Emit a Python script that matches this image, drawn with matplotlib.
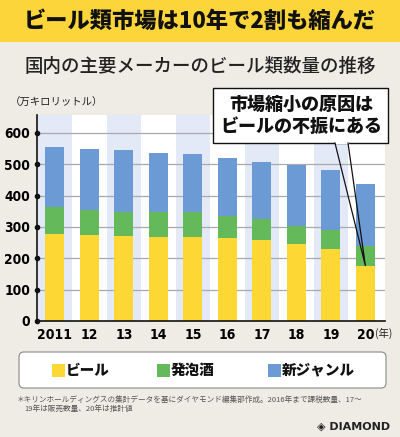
import matplotlib
matplotlib.use("Agg")
import matplotlib.pyplot as plt
from matplotlib.patches import Rectangle, FancyBboxPatch
from matplotlib.lines import Line2D
from matplotlib import font_manager
import numpy as np

plt.rcParams['font.family'] = ['Noto Sans CJK JP', 'DejaVu Sans']

years = ["2011", "12", "13", "14", "15", "16", "17", "18", "19", "20"]
beer = [278, 275, 272, 268, 269, 264, 259, 244, 229, 177]
happoshu = [87, 79, 77, 79, 78, 71, 66, 59, 61, 63]
new_genre = [191, 196, 195, 190, 186, 184, 183, 193, 192, 196]
yticks = [0, 100, 200, 300, 400, 500, 600]
legend_labels = ["ビール", "発泡酒", "新ジャンル"]

C_BEER = "#fdd835"
C_HAP = "#64b95a"
C_NEW = "#6b9ad4"
BG = "#efece5"
BAND = "#e3e9f6"

# condensed font if available
cond = [f for f in font_manager.fontManager.ttflist
        if 'Condensed' in f.fname or 'Narrow' in f.fname]
NUM_FP = None
for f in cond:
    if 'Bold' in f.fname and 'Oblique' not in f.fname and 'Italic' not in f.fname:
        NUM_FP = font_manager.FontProperties(fname=f.fname)
        break

W, H = 400, 437
fig = plt.figure(figsize=(4, 4.37), dpi=100, facecolor=BG)

def fx(px):
    return px / W

def fy(py):
    return 1 - py / H

# Title band
fig.patches.append(Rectangle((0, fy(42)), 1, 42 / H, transform=fig.transFigure,
                             facecolor="#fcd53a", edgecolor="none", zorder=0))
fig.text(0.5, fy(21), "ビール類市場は10年で2割も縮んだ", ha="center", va="center",
         fontsize=16, fontweight="black", color="#111111")
fig.text(0.5, fy(66), "国内の主要メーカーのビール類数量の推移", ha="center", va="center",
         fontsize=13.3, fontweight="medium", color="#222222")
fig.text(fx(10), fy(103), "（万キロリットル）", ha="left", va="center",
         fontsize=7.5, color="#222222")

ax = fig.add_axes([fx(37), fy(321), fx(385) - fx(37), fy(115) - fy(321)])
ax.set_facecolor("white")
x = np.arange(len(years))
ax.set_xlim(-0.52, len(years) - 0.43)
ax.set_ylim(0, 657)

for i in x:
    if i % 2 == 0:
        ax.axvspan(i - 0.5, i + 0.5, color=BAND, zorder=0, lw=0)
for t in yticks[1:]:
    ax.axhline(t, color="#a9a9b0", lw=0.9, zorder=1)

bw = 0.55
beer_a = np.array(beer)
hap_a = np.array(happoshu)
new_a = np.array(new_genre)
ax.bar(x, beer_a, width=bw, color=C_BEER, zorder=2)
ax.bar(x, hap_a, width=bw, bottom=beer_a, color=C_HAP, zorder=2)
ax.bar(x, new_a, width=bw, bottom=beer_a + hap_a, color=C_NEW, zorder=2)

for s in ["top", "right"]:
    ax.spines[s].set_visible(False)
for s in ["left", "bottom"]:
    ax.spines[s].set_color("#111111")
    ax.spines[s].set_linewidth(1.2)
    ax.spines[s].set_zorder(5)

ax.set_yticks(yticks)
ax.set_xticks(x)
if NUM_FP is not None:
    ax.set_yticklabels([str(t) for t in yticks], fontproperties=NUM_FP, fontsize=9.8)
    ax.set_xticklabels(years, fontproperties=NUM_FP, fontsize=10)
else:
    ax.set_yticklabels([str(t) for t in yticks], fontsize=9.5,
                       family=['Liberation Sans', 'DejaVu Sans'], fontweight="bold")
    ax.set_xticklabels(years, fontsize=10,
                       family=['Liberation Sans', 'DejaVu Sans'], fontweight="bold")
ax.tick_params(axis="y", length=0, pad=5)
ax.tick_params(axis="x", length=0, pad=5)
ax.plot([ax.get_xlim()[0]] * len(yticks), yticks, "o", color="#111111",
        ms=3, clip_on=False, zorder=6)
fig.text(fx(375), fy(333), "(年)", ha="left", va="center", fontsize=7.5, color="#222222")

# Callout
bx0, bx1, by0, by1 = 213, 388, 88, 143
fig.patches.append(Rectangle((fx(bx0), fy(by1)), fx(bx1) - fx(bx0), fy(by0) - fy(by1),
                             transform=fig.transFigure, facecolor="white",
                             edgecolor="#111111", lw=1.0, zorder=10))
tip = ax.transData.transform((x[-1], beer[-1]))
tipf = fig.transFigure.inverted().transform(tip)
fig.lines.append(Line2D([fx(335.5), fx(347.5)], [fy(by1), fy(by1)], transform=fig.transFigure,
                        color="white", lw=1.6, zorder=11))
fig.lines.append(Line2D([fx(335), tipf[0], fx(348)], [fy(by1), tipf[1], fy(by1)],
                        transform=fig.transFigure, color="#111111", lw=0.9, zorder=12))
fig.text(fx(301), fy(115.5), "市場縮小の原因は\nビールの不振にある", ha="center", va="center",
         fontsize=13, fontweight="black", color="#111111", linespacing=1.15, zorder=13)

# Legend box
fig.patches.append(FancyBboxPatch((fx(19), fy(388)), fx(386) - fx(19), fy(352) - fy(388),
                                  boxstyle="round,pad=0,rounding_size=0.012",
                                  transform=fig.transFigure, facecolor="white",
                                  edgecolor="#8a8a8a", lw=0.8, zorder=1))
leg_x = [52, 157, 268]
for lx, lab, c in zip(leg_x, legend_labels, [C_BEER, C_HAP, C_NEW]):
    fig.patches.append(Rectangle((fx(lx), fy(376.5)), 13 / W, 13 / H, transform=fig.transFigure,
                                 facecolor=c, edgecolor="none", zorder=2))
    fig.text(fx(lx + 14), fy(370), lab, ha="left", va="center", fontsize=10.5,
             fontweight="black", color="#111111", zorder=3)

fig.text(fx(17), fy(399.5), "＊キリンホールディングスの集計データを基にダイヤモンド編集部作成。2016年まで課税数量、17～",
         ha="left", va="center", fontsize=5.5, color="#555555")
fig.text(fx(24), fy(409), "19年は販売数量、20年は推計値",
         ha="left", va="center", fontsize=5.5, color="#555555")
fig.text(fx(390), fy(427), "◈ DIAMOND", ha="right", va="center", fontsize=8,
         fontweight="bold", color="#222222", family=['DejaVu Sans'])

fig.savefig("out.png", dpi=100, facecolor=BG)
